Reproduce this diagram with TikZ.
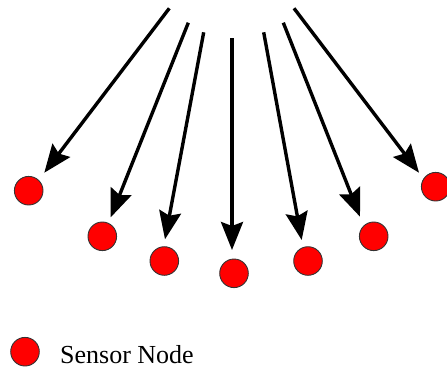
\documentclass[tikz,border=0pt]{standalone}
\usepackage{fontspec}
\setmainfont{Liberation Serif}
\usetikzlibrary{arrows.meta}
\begin{document}
\begin{tikzpicture}[x=1pt,y=-1pt,
  sensor/.style={circle,draw=black!80,line width=0.9pt,fill=red,minimum size=28.6pt,inner sep=0pt},
  beam/.style={line width=3.4pt,-{Stealth[length=28pt,width=22pt,inset=4pt]}}]
\useasboundingbox (0,0) rectangle (447,372);
% sensor nodes
\node[sensor] (s1) at (28.7,190.7) {};
\node[sensor] (s2) at (102.3,236.3) {};
\node[sensor] (s3) at (164.3,261) {};
\node[sensor] (s4) at (234,273.3) {};
\node[sensor] (s5) at (308,261) {};
\node[sensor] (s6) at (373.7,236.3) {};
\node[sensor] (s7) at (435.7,186.7) {};
% arrow ends
\coordinate (a1) at (169.3,8.3);   \coordinate (t1) at (44.3,172.7);
\coordinate (a2) at (188.3,22.7);  \coordinate (t2) at (110.7,217.3);
\coordinate (a3) at (203.7,32.3);  \coordinate (t3) at (165,239.3);
\coordinate (a4) at (232,38.3);    \coordinate (t4) at (232,250);
\coordinate (a5) at (263.7,32.3);  \coordinate (t5) at (301.7,240);
\coordinate (a6) at (283.3,22.7);  \coordinate (t6) at (360,216.7);
\coordinate (a7) at (294,8.3);     \coordinate (t7) at (419,172.7);
\foreach \i in {1,...,7} \draw[beam] (a\i) -- (t\i);
% legend
\node[sensor] (leg) at (25,351.7) {};
\node[anchor=base west,inner sep=0pt,font=\fontsize{26}{30}\selectfont] (legtext) at (60,363.3) {Sensor Node};
\end{tikzpicture}
\end{document}
